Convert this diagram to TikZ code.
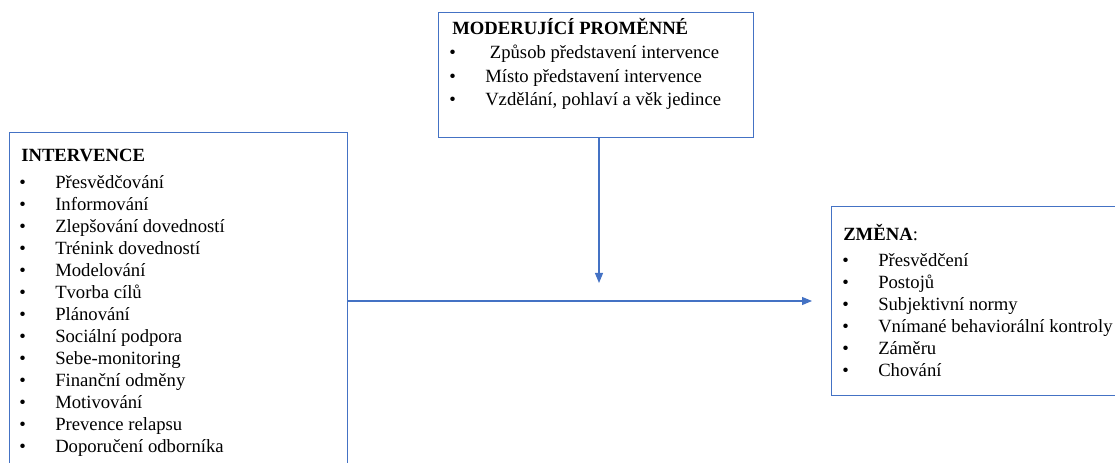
\documentclass[tikz,border=0pt]{standalone}
\usepackage{fontspec}
\setmainfont{Liberation Serif}
\usepackage{tikz}
\tikzset{x=.75pt,y=-.75pt}
\usetikzlibrary{arrows.meta}
\definecolor{wordblue}{HTML}{4472C4}
\def\blt{\llap{\textbullet\hspace{22pt}}}

\begin{document}
\begin{tikzpicture}[
  box/.style={draw=wordblue, line width=1.1pt, inner sep=0pt, anchor=north west},
  head/.style={anchor=base west, inner sep=0pt, font=\fontsize{14}{16.5}\selectfont\bfseries},
  item/.style={anchor=base west, inner sep=0pt, font=\fontsize{14}{16.5}\selectfont},
  conn/.style={draw=wordblue, line width=.8pt, -{Triangle[length=7.5pt,width=6pt]}}]
\useasboundingbox (0,0) rectangle (1115,463);
    % boxes
    \node[box, minimum width=253.5pt, minimum height=270pt] (interv) at (9,132) {};
    \node[box, minimum width=236.25pt, minimum height=93.75pt] (moder) at (438,12) {};
    \node[box, minimum width=225pt, minimum height=141.75pt] (zmena) at (831,206) {};
    % headings
    \node[head] (interv-t) at (21,162) {INTERVENCE};
    \node[head] (moder-t) at (452,35) {MODERUJÍCÍ PROMĚNNÉ};
    \node[head] (zmena-t) at (843,241) {ZMĚNA\textmd{:}};
    % lists
    \foreach \txt [count=\i] in {Přesvědčování, Informování,
        Zlepšování dovedností, Trénink dovedností, Modelování,
        Tvorba cílů, Plánování, Sociální podpora, Sebe-monitoring,
        Finanční odměny, Motivování, Prevence relapsu,
        Doporučení odborníka}
      \node[item] (interv-\i) at (55,167+22*\i) {\blt\txt};
    \foreach \txt [count=\i] in {\ Způsob představení intervence,
        Místo představení intervence,
        {Vzdělání, pohlaví a věk jedince}}
      \node[item] (moder-\i) at (485,35.5+23.5*\i) {\blt\txt};
    \foreach \txt [count=\i] in {Přesvědčení, Postojů, Subjektivní normy,
        Vnímané behaviorální kontroly, Záměru, Chování}
      \node[item] (zmena-\i) at (878,244.5+22*\i) {\blt\txt};
    % arrows
    \coordinate (hend) at (812,301);
    \coordinate (vend) at (599,283);
    \draw[conn] (interv.east |- hend) -- (hend);
    \draw[conn] (vend |- moder.south) -- (vend);
\end{tikzpicture}
\end{document}
